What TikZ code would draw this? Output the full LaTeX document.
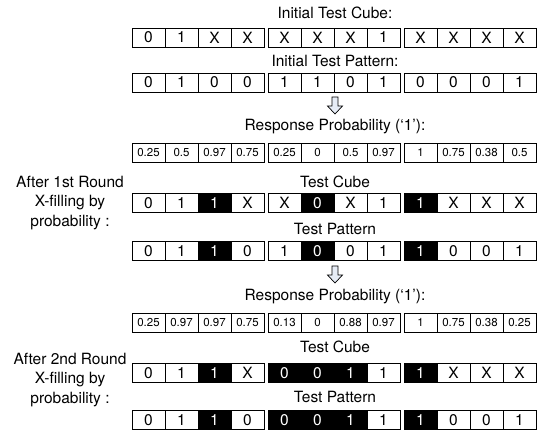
\documentclass[tikz,border=0pt]{standalone}
\usepackage{fontspec}
\setmainfont{TeX Gyre Heros}
\definecolor{arrowfill}{HTML}{E6ECF6}
\tikzset{
  cellbox/.style={draw=black, line width=0.9pt, minimum width=33pt, minimum height=19pt,
    inner sep=0pt, outer sep=0pt, font=\fontsize{15.5}{18}\selectfont},
  probbox/.style={cellbox, font=\fontsize{11.5}{13}\selectfont},
  wc/.style={fill=white, text=black},
  bc/.style={fill=black, text=white},
  lbl/.style={inner sep=0pt, font=\fontsize{15.5}{19.5}\selectfont},
  sidelbl/.style={lbl, align=center},
  downarrow/.style={draw=black, line width=0.7pt, fill=arrowfill, line join=miter}
}
\newcommand\cellrow[4]{%
  \foreach \v/\s [count=\i from 0] in {#3} {
    \pgfmathtruncatemacro\g{int(\i/4)}
    \pgfmathsetmacro\xx{132+136*\g+33*(\i-4*\g)+16.5}
    \node[#4, \s] (#1-\i) at (\xx,#2) {\v};
  }
}
\begin{document}
\begin{tikzpicture}[x=1pt, y=-1pt]
\useasboundingbox (0,0) rectangle (549,435);

\node[lbl] (t1) at (335,13) {Initial Test Cube:};
\cellrow{ra}{37.5}{0/wc,1/wc,X/wc,X/wc,X/wc,X/wc,X/wc,1/wc,X/wc,X/wc,X/wc,X/wc}{cellbox}

\node[lbl] (t2) at (335,61) {Initial Test Pattern:};
\cellrow{rb}{82.5}{0/wc,1/wc,0/wc,0/wc,1/wc,1/wc,0/wc,1/wc,0/wc,0/wc,0/wc,1/wc}{cellbox}

\coordinate (a1) at (335,97);
\draw[downarrow] ([xshift=-3pt]a1) -- ++(0,9) -- ++(-4.5,0) -- (335,114) -- (342.5,106) -- ++(-4.5,0) -- ++(0,-9) -- cycle;

\node[lbl] (t3) at (335,127) {Response Probability (‘1’):};
\cellrow{pa}{152.5}{0.25/wc,0.5/wc,0.97/wc,0.75/wc,0.25/wc,0/wc,0.5/wc,0.97/wc,1/wc,0.75/wc,0.38/wc,0.5/wc}{probbox}

\node[sidelbl] (s1) at (70,203) {After 1st Round\\X-filling by\\probability :};
\node[lbl] (t4) at (335,182) {Test Cube};
\cellrow{ca}{203}{0/wc,1/wc,1/bc,X/wc,X/wc,0/bc,X/wc,1/wc,1/bc,X/wc,X/wc,X/wc}{cellbox}
\node[lbl] (t5) at (335,229) {Test Pattern};
\cellrow{pta}{251}{0/wc,1/wc,1/bc,0/wc,1/wc,0/bc,0/wc,1/wc,1/bc,0/wc,0/wc,1/wc}{cellbox}

\coordinate (a2) at (335,266);
\draw[downarrow] ([xshift=-3pt]a2) -- ++(0,9) -- ++(-4.5,0) -- (335,283) -- (342.5,275) -- ++(-4.5,0) -- ++(0,-9) -- cycle;

\node[lbl] (t6) at (335,297) {Response Probability (‘1’):};
\cellrow{pb}{322.5}{0.25/wc,0.97/wc,0.97/wc,0.75/wc,0.13/wc,0/wc,0.88/wc,0.97/wc,1/wc,0.75/wc,0.38/wc,0.25/wc}{probbox}

\node[sidelbl] (s2) at (70,380) {After 2nd Round\\X-filling by\\probability :};
\node[lbl] (t7) at (335,347) {Test Cube};
\cellrow{cb}{373}{0/wc,1/wc,1/bc,X/wc,0/bc,0/bc,1/bc,1/wc,1/bc,X/wc,X/wc,X/wc}{cellbox}
\node[lbl] (t8) at (335,397) {Test Pattern};
\cellrow{ptb}{420}{0/wc,1/wc,1/bc,0/wc,0/bc,0/bc,1/bc,1/wc,1/bc,0/wc,0/wc,1/wc}{cellbox}
\end{tikzpicture}
\end{document}
